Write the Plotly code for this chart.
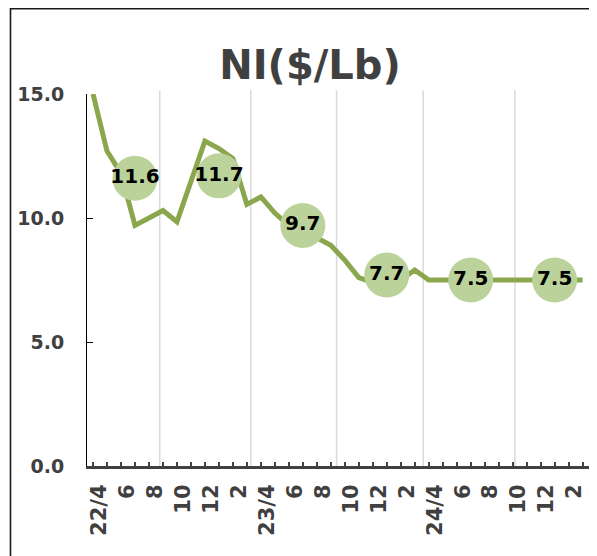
import plotly.graph_objects as go

# ---- data ----
month_labels = ["22/4", "", "6", "", "8", "", "10", "", "12", "", "2", "",
                "23/4", "", "6", "", "8", "", "10", "", "12", "", "2", "",
                "24/4", "", "6", "", "8", "", "10", "", "12", "", "2", ""]
ni_price = [15.0, 12.7, 11.8, 9.7, 10.0, 10.3, 9.85, 11.45, 13.1, 12.8, 12.4, 10.55,
            10.85, 10.2, 9.7, 9.4, 9.2, 8.9, 8.3, 7.6, 7.4, 7.4, 7.5, 7.9,
            7.5, 7.5, 7.5, 7.5, 7.5, 7.5, 7.5, 7.5, 7.5, 7.5, 7.5, 7.5]
avg_index = [3, 9, 15, 21, 27, 33]
avg_value = [11.6, 11.7, 9.7, 7.7, 7.5, 7.5]
y_ticks = [0, 5, 10, 15]
grid_x = [4.77, 11.28, 17.41, 23.6, 30.16]

x_idx = list(range(len(ni_price)))

FONT = "DejaVu Sans"
GRAY = "#404040"
LINE_GREEN = "#8AA74E"
CIRCLE_GREEN = "#BCD29B"

# page has an 8px body margin, so the figure is laid out 8px smaller
W, H = 589, 548
L, R, T, B = 79, 0, 86, 90
PW, PH = W - L - R, H - T - B

fig = go.Figure()
fig.add_trace(go.Scatter(
    x=x_idx, y=ni_price, mode="lines",
    line=dict(color=LINE_GREEN, width=5),
    hoverinfo="skip", showlegend=False))
fig.add_trace(go.Scatter(
    x=avg_index, y=avg_value, mode="markers+text",
    marker=dict(size=45, color=CIRCLE_GREEN, line=dict(width=0)),
    text=[f"{v:.1f}" for v in avg_value], textposition="middle center",
    textfont=dict(family=FONT, size=20, color="#000000", weight="bold"),
    cliponaxis=False, hoverinfo="skip", showlegend=False))

shapes = []
for gx in grid_x:
    shapes.append(dict(type="line", xref="x", yref="paper", x0=gx, x1=gx, y0=0, y1=1.01,
                       line=dict(color="#D9D9D9", width=1.5), layer="below"))
# chart border (extends beyond the visible frame)
bx0 = (2.5 - L) / PW
by1 = (T + PH - 0.8) / PH
shapes.append(dict(type="rect", xref="paper", yref="paper",
                   x0=bx0, x1=1.1, y0=-0.4, y1=by1,
                   line=dict(color="#1a1a1a", width=1.6), layer="above"))

fig.update_layout(
    width=W, height=H,
    margin=dict(l=L, r=R, t=T, b=B, autoexpand=False),
    paper_bgcolor="white", plot_bgcolor="white",
    title=dict(text="NI($/Lb)", x=302 / W, xanchor="center", xref="container",
               y=1 - 57 / H, yanchor="middle", yref="container",
               font=dict(family=FONT, size=40, color=GRAY, weight="bold")),
    shapes=shapes,
    xaxis=dict(range=[-0.43, 36.03], tickmode="array", tickvals=x_idx,
               ticktext=month_labels, tickangle=-90, automargin=False,
               ticks="inside", ticklen=4, tickwidth=2, tickcolor=GRAY,
               showline=True, linecolor=GRAY, linewidth=3,
               showgrid=False, zeroline=False,
               tickfont=dict(family=FONT, size=21, color=GRAY, weight="bold"),
               ticklabelstandoff=7, ticklabelshift=6),
    yaxis=dict(range=[0, 15], tickmode="array", tickvals=y_ticks,
               ticktext=[f"{v:.1f}" for v in y_ticks], automargin=False,
               ticks="inside", ticklen=6, tickwidth=1, tickcolor="#000000",
               showline=True, linecolor="#000000", linewidth=1,
               showgrid=False, zeroline=False,
               tickfont=dict(family=FONT, size=19, color=GRAY, weight="bold"),
               ticklabelstandoff=18),
)

fig.write_html("out.html")
